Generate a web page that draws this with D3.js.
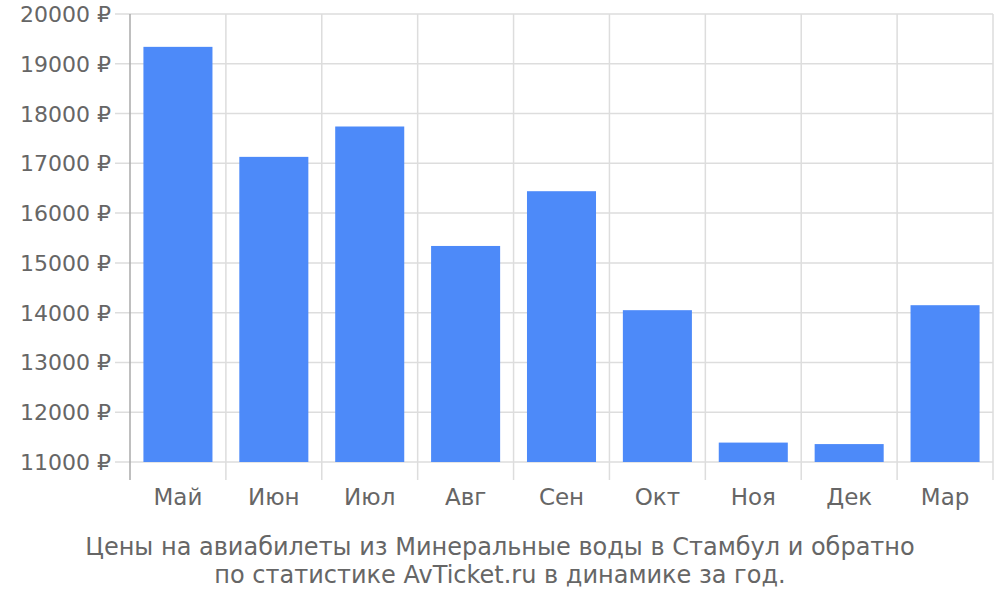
<!DOCTYPE html>
<html><head><meta charset="utf-8">
<script src="https://cdn.jsdelivr.net/npm/d3@7"></script>
<style>body{margin:0;background:#fff}svg{font-family:"DejaVu Sans",sans-serif}</style>
</head><body><svg id="chart" width="1000" height="600"></svg>
<script>
// chart data
var months = ["Май", "Июн", "Июл", "Авг", "Сен", "Окт", "Ноя", "Дек", "Мар"];
var prices = [19340, 17130, 17740, 15340, 16440, 14050, 11390, 11360, 14150];
var yTicks = [11000, 12000, 13000, 14000, 15000, 16000, 17000, 18000, 19000, 20000];
var titleLines = ["Цены на авиабилеты из Минеральные воды в Стамбул и обратно",
                  "по статистике AvTicket.ru в динамике за год."];

var svg = d3.select("#chart");
var mLeft = 130, mRight = 993, mTop = 14, mBottom = 462;

var x = d3.scaleBand().domain(months).range([mLeft, mRight]).paddingInner(0.28).paddingOuter(0.14);
var y = d3.scaleLinear().domain([11000, 20000]).range([mBottom, mTop]);

// horizontal grid
svg.selectAll(".hg").data(yTicks).enter().append("line")
  .attr("x1", mLeft - 15).attr("x2", mRight)
  .attr("y1", d => y(d)).attr("y2", d => y(d))
  .attr("stroke", "#ddd").attr("stroke-width", 1.5);

// vertical grid at band edges
var edges = d3.range(months.length + 1).map(i => mLeft + i * (mRight - mLeft) / months.length);
svg.selectAll(".vg").data(edges).enter().append("line")
  .attr("x1", d => d).attr("x2", d => d)
  .attr("y1", mTop).attr("y2", mBottom + 18)
  .attr("stroke", (d, i) => i == 0 ? "#aaa" : "#ddd").attr("stroke-width", 1.5);

svg.selectAll(".bar").data(prices).enter().append("rect")
  .attr("x", (d, i) => x(months[i]))
  .attr("width", x.bandwidth())
  .attr("y", d => y(d))
  .attr("height", d => mBottom - y(d))
  .attr("fill", "#4d8af9");

svg.selectAll(".yl").data(yTicks).enter().append("text")
  .attr("x", 111).attr("y", d => y(d) + 8)
  .attr("text-anchor", "end").attr("font-size", 22).attr("fill", "#666")
  .text(d => d + " ₽");

svg.selectAll(".xl").data(months).enter().append("text")
  .attr("x", d => x(d) + x.bandwidth() / 2).attr("y", 505)
  .attr("text-anchor", "middle").attr("font-size", 23).attr("fill", "#666")
  .text(d => d);

svg.selectAll(".tl").data(titleLines).enter().append("text")
  .attr("x", 500).attr("y", (d, i) => 555 + i * 28)
  .attr("text-anchor", "middle").attr("font-size", 24).attr("fill", "#666")
  .text(d => d);
</script></body></html>
